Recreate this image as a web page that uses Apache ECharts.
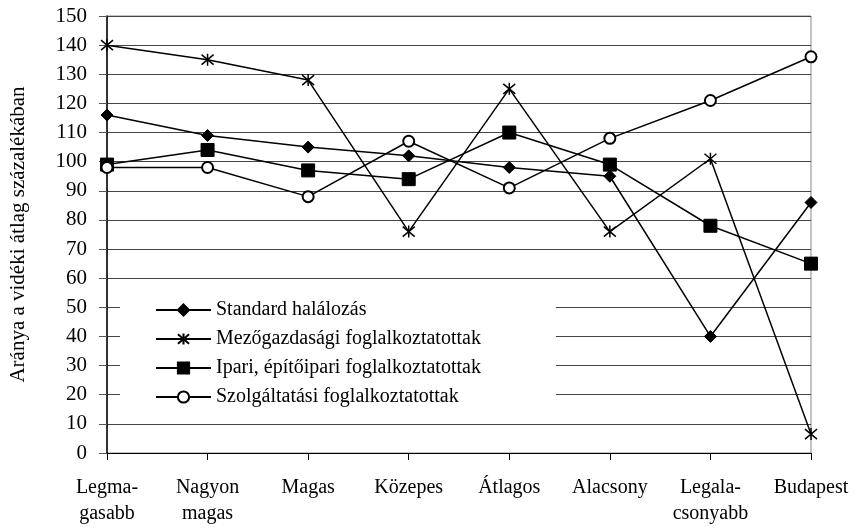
<!DOCTYPE html>
<html>
<head>
<meta charset="utf-8">
<script src="https://cdn.jsdelivr.net/npm/echarts@6/dist/echarts.min.js"></script>
<style>
  html, body { margin: 0; padding: 0; background: #fff; }
  #main { width: 858px; height: 531px; }
</style>
</head>
<body>
<div id="main"></div>
<script>
let categories = ['Legma-\ngasabb', 'Nagyon\nmagas', 'Magas', 'Közepes', 'Átlagos', 'Alacsony', 'Legala-\ncsonyabb', 'Budapest']
let halalozas = [116, 109, 105, 102, 98, 95, 40, 86]
let mezogazdasagi = [140, 135, 128, 76, 125, 76, 101, 6.5]
let ipari = [99, 104, 97, 94, 110, 99, 78, 65]
let szolgaltatasi = [98, 98, 88, 107, 91, 108, 121, 136]
let seriesNames = ['Standard halálozás', 'Mezőgazdasági foglalkoztatottak', 'Ipari, építőipari foglalkoztatottak', 'Szolgáltatási foglalkoztatottak']

let font = '"Liberation Serif", "DejaVu Serif", serif'
let chart = echarts.init(document.getElementById('main'), null, { renderer: 'canvas' })

function lineSeries(name, data, symbol, size, extra) {
  return Object.assign({
    name: name,
    type: 'line',
    data: data,
    symbol: symbol,
    symbolSize: size,
    showAllSymbol: true,
    lineStyle: { color: '#000', width: 1.5 },
    itemStyle: { color: '#000', borderColor: '#000', borderWidth: 1 },
    emphasis: { disabled: true },
    animation: false
  }, extra || {})
}

let option = {
  backgroundColor: '#fff',
  textStyle: { fontFamily: font },
  grid: {
    left: 103, right: 47, top: 16, bottom: 78,
    show: true, borderColor: '#888', borderWidth: 1, backgroundColor: 'transparent'
  },
  legend: {
    orient: 'vertical',
    left: 120,
    top: 285,
    backgroundColor: '#fff',
    padding: [15, 75, 15, 35],
    itemWidth: 55,
    itemHeight: 14,
    itemGap: 9,
    textStyle: { fontFamily: font, fontSize: 20, lineHeight: 16, color: '#000' },
    data: seriesNames
  },
  xAxis: {
    type: 'category',
    data: categories,
    boundaryGap: false,
    axisLine: { lineStyle: { color: '#000', width: 1 } },
    axisTick: { show: true, alignWithLabel: true, length: 7, lineStyle: { color: '#000' } },
    axisLabel: { fontFamily: font, fontSize: 20, color: '#000', margin: 22, lineHeight: 26, interval: 0 },
    splitLine: { show: false }
  },
  yAxis: {
    type: 'value',
    min: 0,
    max: 150,
    interval: 10,
    name: 'Aránya a vidéki átlag százalékában',
    nameLocation: 'middle',
    nameGap: 78,
    nameRotate: 90,
    nameTextStyle: { fontFamily: font, fontSize: 21, color: '#000' },
    axisLine: { show: true, lineStyle: { color: '#000', width: 1.5 } },
    axisTick: { show: true, length: 8, lineStyle: { color: '#555' } },
    axisLabel: { fontFamily: font, fontSize: 21, color: '#000', margin: 20 },
    splitLine: { show: true, lineStyle: { color: '#444', width: 1 } }
  },
  series: [
    lineSeries(seriesNames[0], halalozas, 'diamond', 12),
    lineSeries(seriesNames[1], mezogazdasagi, 'path://M0,0L10,10M10,0L0,10M5,-1L5,11', 12,
      { itemStyle: { color: 'none', borderColor: '#000', borderWidth: 1.5 } }),
    lineSeries(seriesNames[2], ipari, 'rect', 13),
    lineSeries(seriesNames[3], szolgaltatasi, 'emptyCircle', 11,
      { itemStyle: { color: '#000', borderColor: '#000', borderWidth: 1.5 } })
  ]
}
chart.setOption(option)
</script>
</body>
</html>
